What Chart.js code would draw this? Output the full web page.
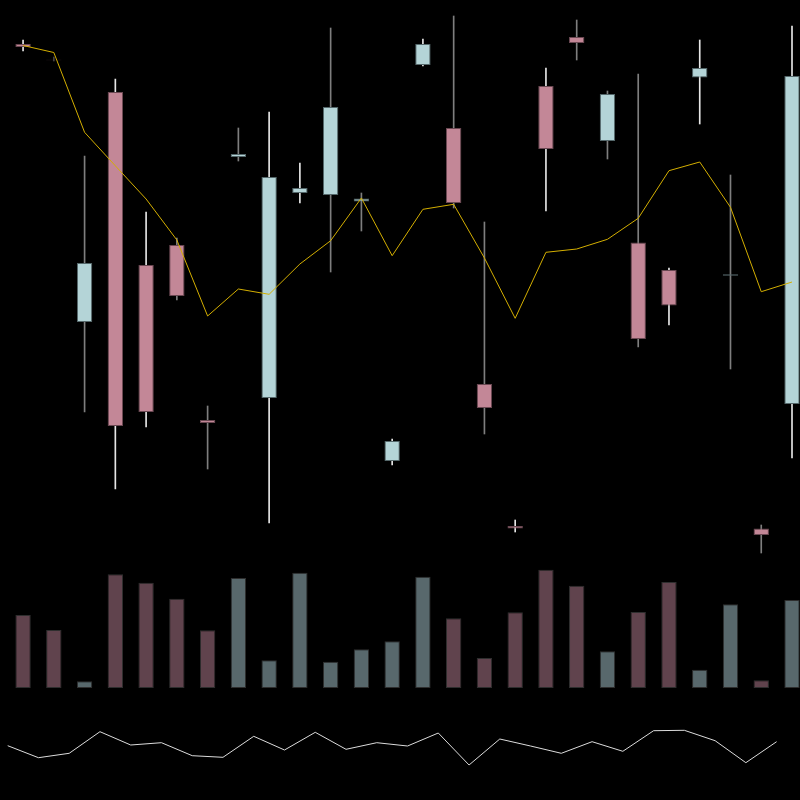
<!DOCTYPE html>
<html><head><meta charset="utf-8">
<script src="https://cdn.jsdelivr.net/npm/chart.js@4.4.0/dist/chart.umd.min.js"></script>
<style>html,body{margin:0;padding:0;background:#000;overflow:hidden}canvas{display:block}</style>
</head><body>
<canvas id="c" width="800" height="800"></canvas>
<script>
// ---- data ----
const opens  = [55.6, 54.03, 27.8, 50.8, 33.5, 35.5, 18.0, 44.3, 20.2, 40.7, 40.5, 39.85, 13.9, 53.5, 47.2, 21.6, 7.4, 51.4, 56.3, 45.9, 35.75, 33.0, 52.25, 32.42, 7.15, 19.6];
const highs  = [56.0, 54.3, 44.4, 52.1, 38.8, 36.2, 19.4, 47.2, 48.8, 43.7, 57.2, 40.7, 16.1, 56.1, 58.4, 37.8, 8.0, 53.2, 58.0, 50.9, 52.6, 33.2, 56.0, 42.5, 7.5, 57.4];
const lows   = [54.9, 53.9, 18.8, 11.1, 17.3, 30.0, 13.1, 43.9, 7.7, 39.7, 32.8, 36.9, 13.5, 53.4, 39.2, 16.6, 6.8, 38.9, 54.0, 44.1, 25.3, 27.5, 47.6, 23.1, 4.7, 14.2];
const closes = [55.3, 53.97, 33.7, 17.4, 18.8, 30.4, 17.7, 44.6, 42.3, 41.2, 49.3, 40.15, 15.9, 55.6, 39.7, 19.2, 7.15, 45.1, 55.7, 50.6, 26.1, 29.45, 53.2, 32.58, 6.5, 52.4];
const movingAvg = [55.45, 54.75, 46.77, 43.42, 40.1, 36.0, 28.4, 31.1, 30.57, 33.6, 35.93, 40.2, 34.43, 39.07, 39.57, 34.2, 28.17, 34.77, 35.1, 36.07, 38.17, 42.93, 43.8, 39.27, 30.83, 31.8];
const volumes = [73, 58, 6.7, 113.7, 105.3, 89.3, 57.7, 110, 27.7, 115.3, 26.3, 38.7, 46.7, 111.3, 69.7, 30, 75.7, 118.3, 102.3, 36.7, 76, 106, 18.3, 83.7, 7.7, 88];
const oscillator = [24.3, 12.3, 16.7, 38.3, 25, 27.3, 14.3, 12.7, 33.7, 20, 37.7, 20.7, 27.3, 24, 37, 5, 31, 24, 16.7, 28.3, 18.7, 39.3, 39.7, 29.3, 7.3, 28.3];
const OSC_SHIFT = -0.5; // oscillator sampled half a period earlier

// ---- styles ----
const UP = '#b4d4d7', DOWN = '#c38797';
const UP_EDGE = '#55686b', DOWN_EDGE = '#6a4852';
const VOL_UP = '#58686c', VOL_DOWN = '#60434d';
const WL = '#e6e6e6', WG = '#7e7e7e', WD = '#444444';
const WICK_COLORS = [WL, WD, WG, WL, WL, WG, WG, WG, WL, WL, WG, WG, WL, WL, WG, WG, WL, WL, WG, WG, WG, WL, WL, WG, WG, WL];

const idx = opens.map((_, i) => i);
const isUp = idx.map(i => closes[i] >= opens[i]);

const wickData = idx.map(i => ({x: i, y: [lows[i], highs[i]]}));
const bodyData = idx.map(i => ({x: i, y: [opens[i], closes[i]]}));
const maData = idx.map(i => ({x: i, y: movingAvg[i]}));
const volData = idx.map(i => ({x: i, y: volumes[i]}));
const oscData = idx.map(i => ({x: i + OSC_SHIFT, y: oscillator[i]}));

new Chart(document.getElementById('c'), {
  type: 'bar',
  data: {
    datasets: [
      { type: 'line', data: maData, yAxisID: 'yP', borderColor: '#d4af00', borderWidth: 1, pointRadius: 0, order: 0 },
      { type: 'bar', data: bodyData, yAxisID: 'yP', grouped: false, categoryPercentage: 1, barPercentage: 0.5,
        backgroundColor: idx.map(i => isUp[i] ? UP : DOWN), borderColor: idx.map(i => isUp[i] ? UP_EDGE : DOWN_EDGE),
        borderWidth: 1, borderSkipped: false, order: 1 },
      { type: 'bar', data: wickData, yAxisID: 'yP', grouped: false, categoryPercentage: 1, barPercentage: 1, maxBarThickness: 1,
        backgroundColor: WICK_COLORS, borderWidth: 0, order: 2 },
      { type: 'bar', data: volData, yAxisID: 'yV', grouped: false, categoryPercentage: 1, barPercentage: 0.5,
        backgroundColor: idx.map(i => isUp[i] ? VOL_UP : VOL_DOWN), borderColor: '#2e2e2e',
        borderWidth: 1, borderSkipped: false, order: 3 },
      { type: 'line', data: oscData, yAxisID: 'yW', borderColor: '#dcdcdc', borderWidth: 1, pointRadius: 0, order: 4 }
    ]
  },
  options: {
    responsive: false,
    animation: false,
    events: [],
    layout: { padding: 0 },
    plugins: { legend: { display: false }, tooltip: { enabled: false } },
    scales: {
      x: { type: 'linear', display: false, offset: false, min: -0.75, max: 25.26, ticks: { stepSize: 1, includeBounds: false } },
      yP: { type: 'linear', display: false, position: 'left', min: -20, max: 60 },
      yV: { type: 'linear', display: false, position: 'left', min: -112, max: 688 },
      yW: { type: 'linear', display: false, position: 'left', min: -30, max: 770 }
    }
  }
});
</script>
</body></html>
